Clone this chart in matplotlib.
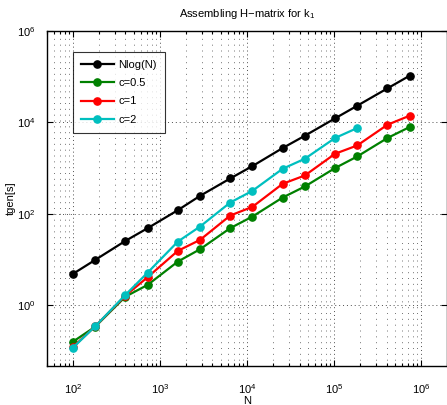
import numpy as np
import matplotlib
matplotlib.use("Agg")
import matplotlib.pyplot as plt
from matplotlib.ticker import LogLocator, NullLocator, FixedLocator

plt.rcParams["font.family"] = ["Liberation Sans", "DejaVu Sans"]
plt.rcParams["mathtext.fontset"] = "custom"
plt.rcParams["mathtext.rm"] = "Liberation Sans"
plt.rcParams["mathtext.it"] = "Liberation Sans:italic"

### DATA

N = [100, 180, 400, 720, 1600, 2880, 6400, 11520, 25600, 46080,
     102400, 184320, 409600, 737280]

t_nlogn = [4.8, 9.7, 25.3, 48, 119, 245, 589, 1100, 2730, 5080,
           12190, 23100, 55400, 105000]
t_c05 = [0.157, 0.334, 1.52, 2.75, 8.9, 16.6, 48.1, 86.3, 225, 393,
         995, 1787, 4530, 7890]
t_c1 = [0.12, 0.34, 1.6, 4.05, 15.3, 26.6, 90.8, 141, 450, 685,
        2046, 3115, 8850, 13960]
t_c2 = [0.116, 0.34, 1.66, 5.1, 24.4, 52.1, 175, 316, 960, 1592,
        4530, 7500]

labels = ["Nlog(N)", "c=0.5", "c=1", "c=2"]
colors = ["black", (0, 0.5, 0), (1, 0, 0), (0, 0.75, 0.75)]

### PLOT

fig = plt.figure(figsize=(4.47, 4.05), dpi=100)
ax = fig.add_axes([46.8 / 447, 39 / 405, 400.6 / 447, 335 / 405])

series = [(N, t_nlogn), (N, t_c05), (N, t_c1), (N[:len(t_c2)], t_c2)]
for (xs, ys), lab, col in zip(series, labels, colors):
    ax.plot(xs, ys, "-o", color=col, lw=1.6, ms=5.2, label=lab)

ax.set_xscale("log")
ax.set_yscale("log")
ax.set_xlim(50, 2.0e6)
ax.set_ylim(0.046, 1e6)

ax.xaxis.set_major_locator(FixedLocator([1e2, 1e3, 1e4, 1e5, 1e6]))
ax.xaxis.set_minor_locator(LogLocator(base=10, subs=np.arange(2, 10)))
ax.yaxis.set_major_locator(FixedLocator([1e0, 1e2, 1e4, 1e6]))
ax.yaxis.set_minor_locator(NullLocator())
ax.set_xticklabels([r"$10^{%d}$" % k for k in range(2, 7)])
ax.set_yticklabels([r"$10^{%d}$" % k for k in (0, 2, 4, 6)])

ax.tick_params(which="both", direction="in", top=True, right=True,
               labelsize=8, width=0.8, color="black")
ax.tick_params(which="major", length=4, pad=12)
ax.tick_params(axis="y", which="major", pad=8)
ax.tick_params(which="minor", length=2)

# MATLAB style sparse dotted grid
ax.grid(True, which="major", ls=(0, (1, 3)), color="0.3", lw=0.7)
ax.grid(True, which="minor", axis="x", ls=(0, (1, 5)), color="0.45", lw=0.7)

for s in ax.spines.values():
    s.set_linewidth(1.0)

ax.set_title(r"Assembling H$-$matrix for k$_1$", fontsize=8, pad=10)
ax.set_xlabel("N", fontsize=8, labelpad=0)
ax.set_ylabel("tgen[s]", fontsize=8, labelpad=1)

leg = ax.legend(loc="upper left", bbox_to_anchor=(26 / 400.6, 1 - 21 / 335),
                fontsize=8, frameon=True, fancybox=False, edgecolor="black",
                handlelength=3.0, handletextpad=0.4, borderaxespad=0,
                labelspacing=0.75, borderpad=0.7)
leg.get_frame().set_linewidth(0.8)

fig.savefig("out.png", dpi=100)
